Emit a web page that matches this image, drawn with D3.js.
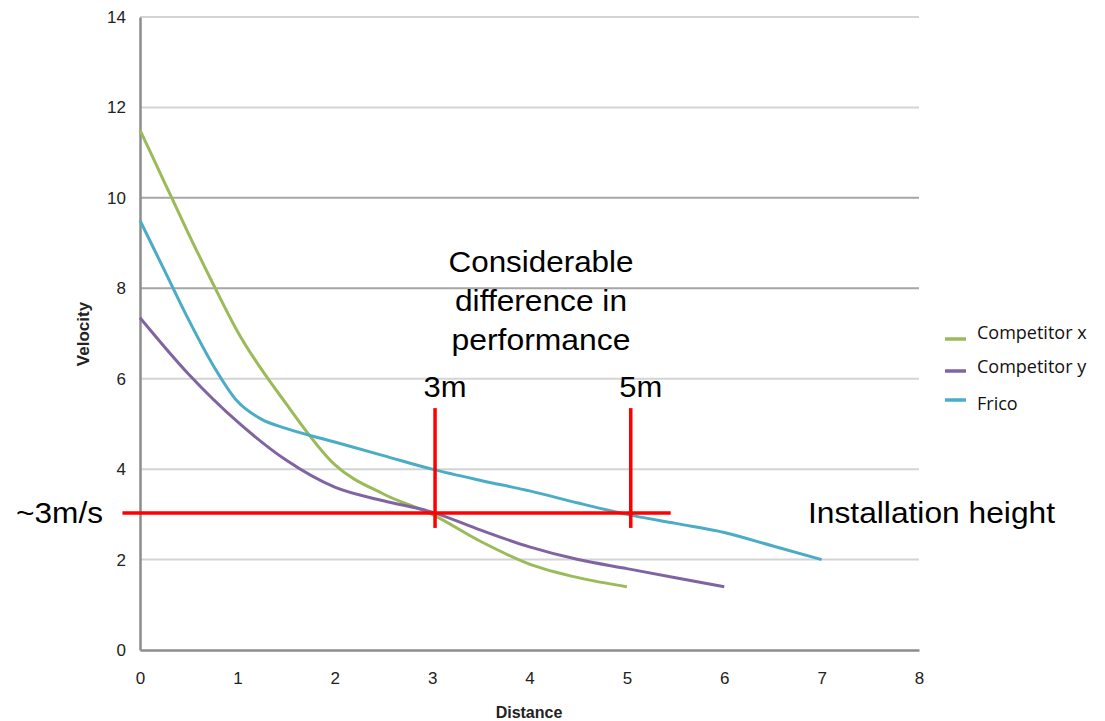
<!DOCTYPE html>
<html><head><meta charset="utf-8">
<script src="https://cdn.jsdelivr.net/npm/d3@7"></script>
<style>body{margin:0;background:#fff}</style>
</head><body>
<svg id="chart" width="1105" height="721"></svg>
<script>
const xTicks = [0,1,2,3,4,5,6,7,8];
const yTicks = [0,2,4,6,8,10,12,14];
const darkGrid = [8,10];
const seriesNames = ["Competitor x","Competitor y","Frico"];
const seriesColors = ["#9bbb59","#8064a2","#4bacc6"];
const compXDist = [0,0.25,0.5,0.75,1,1.5,2,2.5,3,3.5,4,4.5,5];
const compXVel  = [11.5,10.35,9.2,8.1,7.05,5.45,4.1,3.45,3.0,2.4,1.9,1.6,1.4];
const compYDist = [0,0.5,1,1.5,2,2.5,3,3.5,4,4.5,5,5.5,6];
const compYVel  = [7.35,6.1,5.05,4.2,3.6,3.3,3.05,2.65,2.28,2.0,1.8,1.6,1.4];
const fricoDist = [0,0.25,0.5,0.75,1,1.25,1.5,2,2.5,3,3.5,4,4.5,5,5.5,6,6.5,7];
const fricoVel  = [9.5,8.4,7.3,6.3,5.5,5.1,4.9,4.6,4.3,4.0,3.75,3.52,3.25,3.0,2.8,2.6,2.3,2.0];
const installVel = 3.03;
const markDist = [3.03,5.04];
const markLabels = ["3m","5m"];
const noteLines = ["Considerable","difference in","performance"];

const svg = d3.select("#chart");
const x = d3.scaleLinear().domain([0,8]).range([140,919]);
const y = d3.scaleLinear().domain([0,14]).range([650,17]);

// grid
svg.append("g").selectAll("line").data(yTicks.filter(d=>d>0)).join("line")
  .attr("x1",x(0)).attr("x2",x(8)).attr("y1",d=>y(d)).attr("y2",d=>y(d))
  .attr("stroke",d=>darkGrid.includes(d)?"#a6a6a6":"#d4d4d4").attr("stroke-width",2);

// axes
const yAxis = d3.axisLeft(y).tickValues(yTicks).tickSize(0).tickPadding(14);
const gy = svg.append("g").attr("transform",`translate(${x(0)},0)`).call(yAxis);
const xAxis = d3.axisBottom(x).tickValues(xTicks).tickSize(0).tickPadding(22);
const gx = svg.append("g").attr("transform",`translate(0,${y(0)})`).call(xAxis);
[gx,gy].forEach(g=>{
  g.select(".domain").attr("stroke","#8c8c8c").attr("stroke-width",2.5);
  g.selectAll("text").attr("font-family","'Liberation Sans',Arial,sans-serif").attr("font-size",17).attr("fill","#222");
});

svg.append("text").attr("x",529).attr("y",718).attr("text-anchor","middle")
  .attr("font-family","'Liberation Sans',Arial,sans-serif").attr("font-weight","bold").attr("font-size",16).attr("fill","#222").text("Distance");
svg.append("text").attr("transform","translate(89,334) rotate(-90)").attr("text-anchor","middle")
  .attr("font-family","'Liberation Sans',Arial,sans-serif").attr("font-weight","bold").attr("font-size",17).attr("fill","#222").text("Velocity");

// series
const series = [
  {d:compXDist,v:compXVel},
  {d:compYDist,v:compYVel},
  {d:fricoDist,v:fricoVel}
];
const line = d3.line().x(p=>x(p[0])).y(p=>y(p[1])).curve(d3.curveMonotoneX);
series.forEach((s,i)=>{
  svg.append("path").datum(s.d.map((d,j)=>[d,s.v[j]])).attr("d",line)
    .attr("fill","none").attr("stroke",seriesColors[i]).attr("stroke-width",3);
});

// legend
const legLineY = [339,371,400];
const legTextY = [339,373,410];
seriesNames.forEach((n,i)=>{
  svg.append("line").attr("x1",945).attr("x2",966).attr("y1",legLineY[i]).attr("y2",legLineY[i])
    .attr("stroke",seriesColors[i]).attr("stroke-width",3.5);
  svg.append("text").attr("x",977).attr("y",legTextY[i]).attr("font-family","'Open Sans',sans-serif")
    .attr("font-size",18).attr("fill","#111").text(n);
});

// annotations
const red = "#ff0000";
svg.append("line").attr("x1",x(-0.18)).attr("x2",x(5.45)).attr("y1",y(installVel)).attr("y2",y(installVel))
  .attr("stroke",red).attr("stroke-width",3.5);
const ann = {"font-family":"'Liberation Sans',Arial,sans-serif","font-size":30,"fill":"#000"};
function t(str,xx,yy,anchor,len){
  const e = svg.append("text").attr("x",xx).attr("y",yy).attr("text-anchor",anchor).text(str);
  Object.entries(ann).forEach(([k,v])=>e.attr(k,v));
  if(len) e.attr("textLength",len).attr("lengthAdjust","spacingAndGlyphs");
}
markDist.forEach((m,i)=>{
  svg.append("line").attr("x1",x(m)).attr("x2",x(m)).attr("y1",y(5.35)).attr("y2",y(2.7))
    .attr("stroke",red).attr("stroke-width",3.5);
  t(markLabels[i],x(m)+10,397,"middle",43);
});
t("~3m/s",16,523,"start",87);
t("Installation height",808,523,"start",247);
const noteWidths = [185,172,179];
noteLines.forEach((l,i)=>t(l,541,272+i*39,"middle",noteWidths[i]));
</script>
</body></html>
